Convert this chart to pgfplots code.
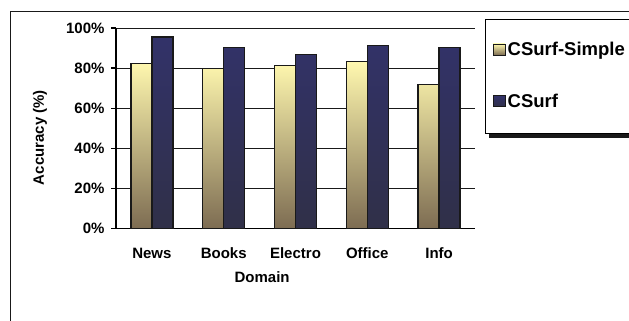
\documentclass[border=0pt]{standalone}
\usepackage{fontspec}
\setmainfont{Liberation Sans}
\usepackage{pgfplots}
\usepackage{pgfplotstable}
\pgfplotsset{compat=1.18}

\definecolor{simpletop}{RGB}{255,248,175}
\definecolor{simplebot}{RGB}{125,108,82}
\definecolor{csurftop}{RGB}{50,50,105}
\definecolor{csurfbot}{RGB}{48,48,72}

\pgfplotstableread{
x simple csurf
0 82.3 95.6
1 79.8 90.3
2 81.3 86.8
3 83.3 91.3
4 72.0 90.3
}\datatable

\begin{document}
\begin{tikzpicture}[x=1pt,y=1pt]
\path[use as bounding box] (0,0) rectangle (629,-321);
\begin{scope}
\clip (0,0) rectangle (629,-321);
\draw[line width=1.8pt, black!90] (10.5,-340) -- (10.5,-11.5) -- (660,-11.5);
% legend box with shadow
\fill[black!90] (489,-22) rectangle (660,-138);
\draw[line width=1pt, fill=white] (485.7,-19.3) rectangle (660,-133.3);
\end{scope}
\begin{axis}[
  at={(116pt,-228.3pt)}, anchor=south west,
  scale only axis, width=359pt, height=200pt,
  xmin=-0.5, xmax=4.5, ymin=0, ymax=100,
  axis x line*=bottom, axis y line*=left,
  axis line style={line width=1.6pt, black},
  ybar=0pt, bar width=21pt,
  ytick={0,20,40,60,80,100},
  yticklabel={\pgfmathprintnumber{\tick}\%},
  /pgf/number format/assume math mode=true,
  ymajorgrids, grid style={black!90, line width=1.2pt},
  xtick={0,1,2,3,4},
  xticklabels={News,Books,Electro,Office,Info},
  x tick style={draw=none},
  extra x ticks={0.5,1.5,2.5,3.5},
  extra x tick labels={},
  extra x tick style={major tick length=5pt, tick align=outside, tick style={draw=black, line width=1.6pt}, grid=none},
  y tick style={line width=1.6pt, black},
  tick align=outside, major tick length=5pt,
  ticklabel style={font=\fontsize{15}{18}\selectfont\bfseries},
  xticklabel style={yshift=-11pt},
  yticklabel style={xshift=-3pt},
  label style={font=\fontsize{15}{18}\selectfont\bfseries},
  ylabel={Accuracy (\%)},
  xlabel={Domain},
  ylabel style={at={(axis description cs:-0.212,0.454)}, anchor=center},
  xlabel style={at={(axis description cs:0.407,-0.2435)}, anchor=center},
  legend style={draw=none, fill=none, at={(1.049,0.94)}, anchor=north west,
     font=\fontsize{18.5}{21}\selectfont\bfseries, row sep=33pt, inner sep=0pt,
     nodes={inner sep=2pt}},
  legend cell align=left,
  legend image code/.code={\draw[#1, line width=0.9pt] (0pt,-5pt) rectangle (12pt,6pt);},
]
\addplot[draw=black!90, line width=1.5pt, top color=simpletop, bottom color=simplebot] table[x=x, y=simple] {\datatable};
\addplot[draw=black!90, line width=1.5pt, top color=csurftop, bottom color=csurfbot] table[x=x, y=csurf] {\datatable};
\legend{CSurf-Simple, CSurf}
\end{axis}
\end{tikzpicture}
\end{document}
